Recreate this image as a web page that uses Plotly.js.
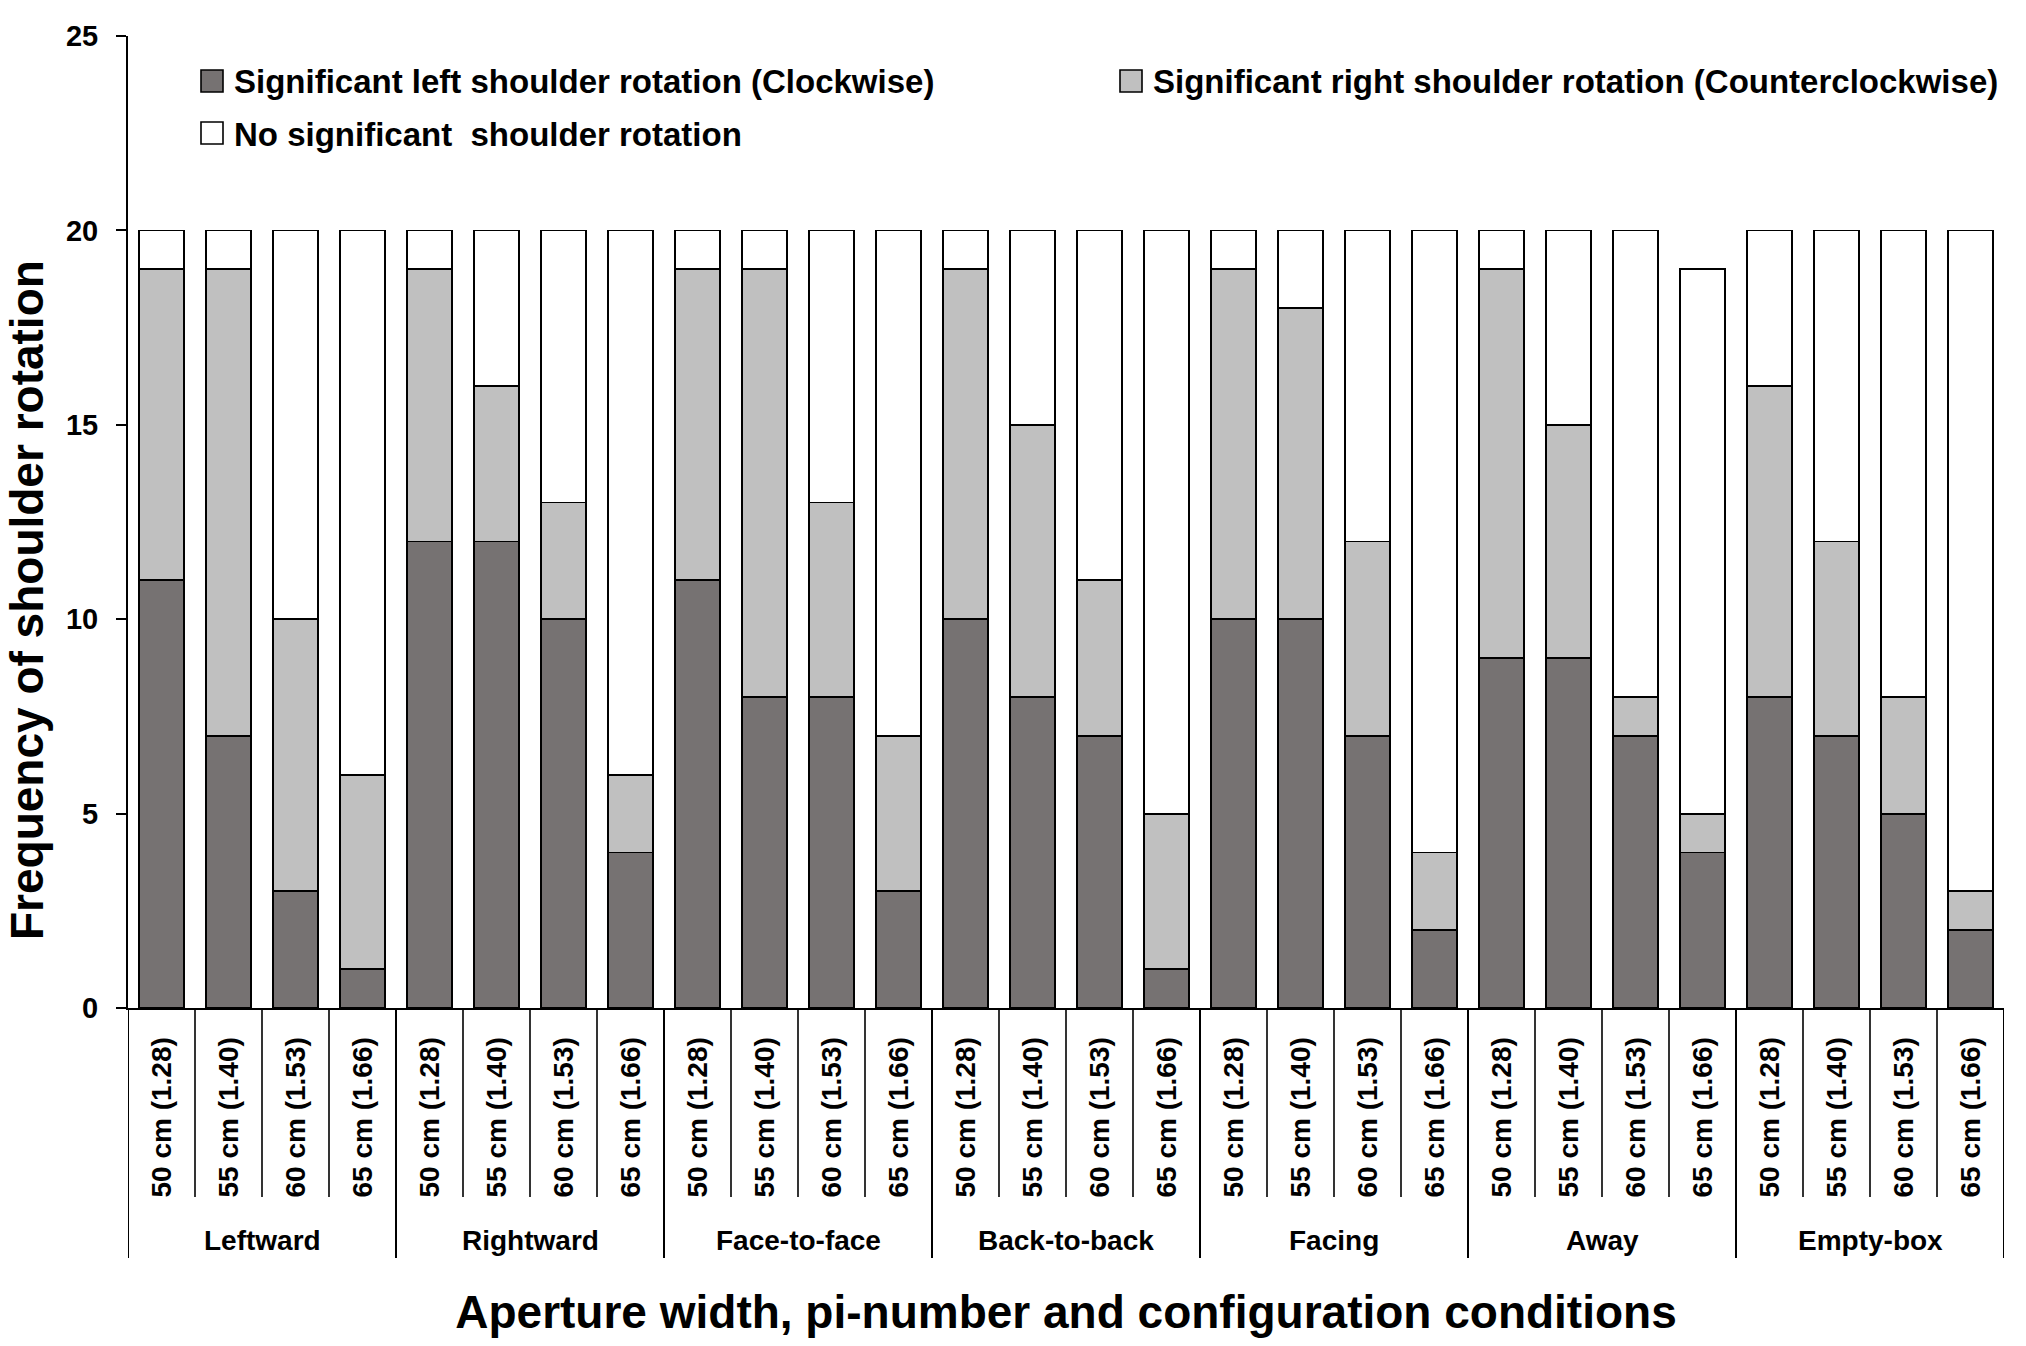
<!DOCTYPE html>
<html><head><meta charset="utf-8">
<script src="https://cdn.plot.ly/plotly-3.0.1.min.js"></script>
<style>html,body{margin:0;padding:0;background:#fff}</style>
</head><body><div id="chart" style="width:2026px;height:1346px"></div>
<script>
// ---- data ----
const configurations = ["Leftward","Rightward","Face-to-face","Back-to-back","Facing","Away","Empty-box"];
const apertureLabels = ["50 cm (1.28)","55 cm (1.40)","60 cm (1.53)","65 cm (1.66)"];
const seriesNames = [
  "Significant left shoulder rotation (Clockwise)",
  "Significant right shoulder rotation (Counterclockwise)",
  "No significant  shoulder rotation"
];
const leftRotation  = [11,7,3,1, 12,12,10,4, 11,8,8,3, 10,8,7,1, 10,10,7,2, 9,9,7,4, 8,7,5,2];
const rightRotation = [8,12,7,5, 7,4,3,2, 8,11,5,4, 9,7,4,4, 9,8,5,2, 10,6,1,1, 8,5,3,1];
const noRotation    = [1,1,10,14, 1,4,7,14, 1,1,7,13, 1,5,9,15, 1,2,8,16, 1,5,12,14, 4,8,12,17];
const yTickValues = [0,5,10,15,20,25];
const xTitle = "Aperture width, pi-number and configuration conditions";
const yTitle = "Frequency of shoulder rotation";

// ---- styling ----
const seriesColors = ["#767272","#c0c0c0","#ffffff"];
const FONT = "Liberation Sans, Arial, Helvetica, sans-serif";
const W = 2026, H = 1346, M = {l:128, r:22, t:36, b:338};
const px = x => (x - M.l) / (W - M.l - M.r);
const py = y => (H - M.b - y) / (H - M.t - M.b);

const keys = [];
configurations.forEach(c => apertureLabels.forEach(a => keys.push(c + " | " + a)));
const tickText = [];
configurations.forEach(() => apertureLabels.forEach(a => tickText.push(a)));

const seriesValues = [leftRotation, rightRotation, noRotation];
const traces = seriesValues.map((vals, i) => ({
  type: "bar", x: keys, y: vals, name: seriesNames[i],
  marker: {color: seriesColors[i], line: {color: "#000", width: 1.8}},
  showlegend: false, hoverinfo: "x+y+name"
}));

const shapes = [];
const annotations = [];
const nPer = apertureLabels.length;
// group boundary lines and inner dividers
for (let i = 0; i <= keys.length; i++) {
  const isGroup = i % nPer === 0;
  shapes.push({type: "line", xref: "x", yref: "paper", x0: i - 0.5, x1: i - 0.5,
    y0: 0, y1: isGroup ? py(1258) : py(1197), line: {color: "#000", width: isGroup ? 2 : 1.6}});
}
configurations.forEach((c, g) => {
  annotations.push({xref: "x", yref: "paper", x: g * nPer + (nPer - 1) / 2, y: py(1240),
    text: c, showarrow: false, xanchor: "center", yanchor: "middle",
    font: {family: FONT, size: 28, color: "#000", weight: "bold"}});
});
// manual legend
const legendPos = [{x: 201, y: 81}, {x: 1120, y: 81}, {x: 201, y: 133}];
seriesNames.forEach((n, i) => {
  const p = legendPos[i];
  shapes.push({type: "rect", xref: "paper", yref: "paper",
    x0: px(p.x), x1: px(p.x + 22), y0: py(p.y + 11), y1: py(p.y - 11),
    fillcolor: seriesColors[i], line: {color: "#000", width: 1.6}});
  annotations.push({xref: "paper", yref: "paper", x: px(p.x + 31), y: py(p.y + 1),
    text: n.replace(/  /g, " &nbsp;"), showarrow: false, xanchor: "left", yanchor: "middle",
    font: {family: FONT, size: 33, color: "#000", weight: "bold"}});
});
// y-axis title (centred lower than the plot area, as in the original figure)
annotations.push({xref: "paper", yref: "paper", x: px(27), y: py(600),
  text: yTitle, textangle: -90, showarrow: false, xanchor: "center", yanchor: "middle",
  font: {family: FONT, size: 46, color: "#000", weight: "bold"}});

const layout = {
  width: W, height: H, margin: M, paper_bgcolor: "#fff", plot_bgcolor: "#fff",
  barmode: "stack", bargap: 0.33,
  font: {family: FONT, color: "#000"},
  xaxis: {
    type: "category", range: [-0.5, keys.length - 0.5],
    tickmode: "array", tickvals: keys, ticktext: tickText, tickangle: -90,
    ticks: "", ticklabelstandoff: 16,
    tickfont: {family: FONT, size: 28, color: "#000", weight: "bold"},
    showline: true, linecolor: "#000", linewidth: 2, showgrid: false, zeroline: false,
    title: {text: xTitle, standoff: 99, font: {family: FONT, size: 46, color: "#000", weight: "bold"}},
    automargin: false
  },
  yaxis: {
    range: [0, 25], tickmode: "array", tickvals: yTickValues,
    ticks: "outside", ticklen: 10, tickwidth: 2, tickcolor: "#000",
    ticklabelstandoff: 12,
    tickfont: {family: FONT, size: 29, color: "#000", weight: "bold"},
    showline: true, linecolor: "#000", linewidth: 2, showgrid: false, zeroline: false,
    automargin: false
  },
  shapes: shapes, annotations: annotations, showlegend: false
};
Plotly.newPlot("chart", traces, layout, {displayModeBar: false, staticPlot: true});
</script></body></html>
